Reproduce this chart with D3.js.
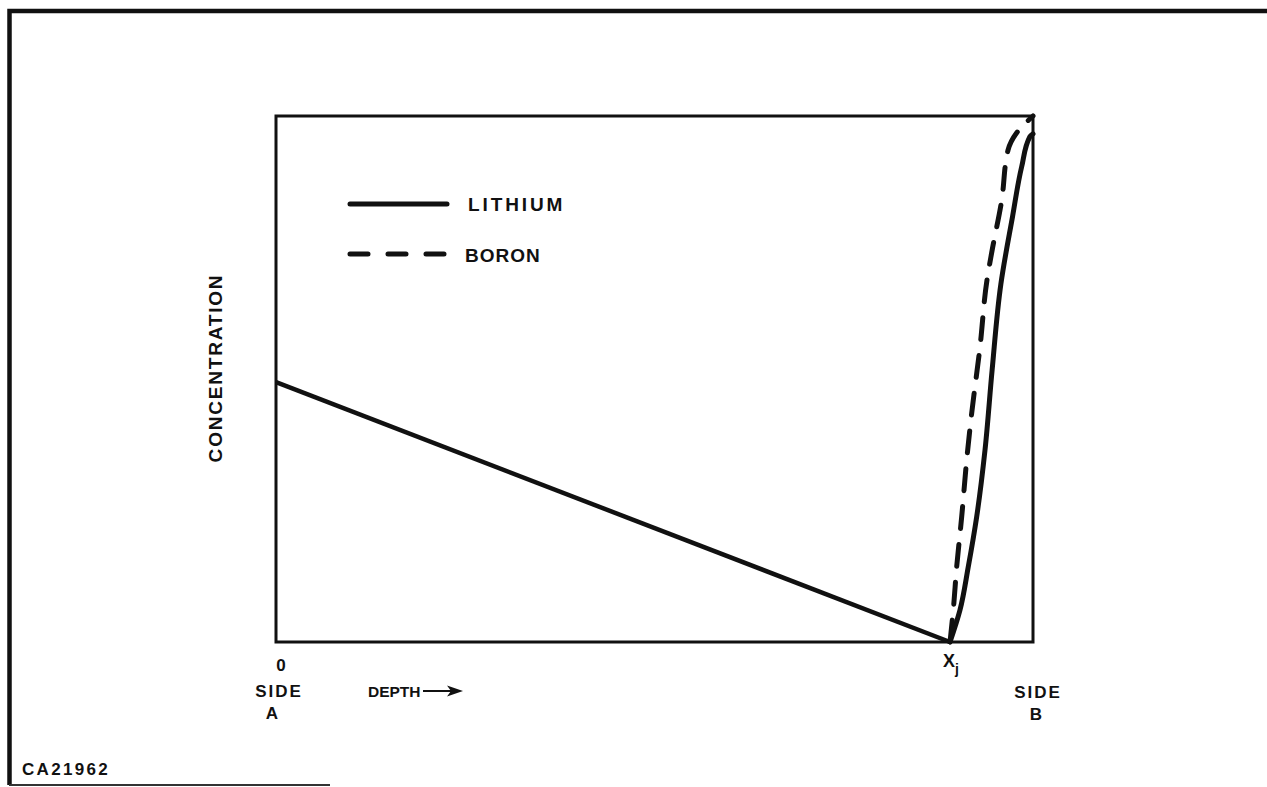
<!DOCTYPE html>
<html>
<head>
<meta charset="utf-8">
<script src="https://cdn.jsdelivr.net/npm/d3@7"></script>
<style>
  html, body { margin: 0; padding: 0; background: #fff; }
  svg { display: block; }
  text { font-family: "Liberation Sans", Arial, Helvetica, sans-serif; fill: #111; font-weight: bold; }
</style>
</head>
<body>
<svg id="chart" width="1267" height="787"></svg>
<script>
// Depth (0 = side A, 1 = side B) and relative concentration (0..1)
const junctionDepth = 0.8904;

// Lithium: linear decline from side A down to the junction
const lithiumLinear = [
  [0.0, 0.494],
  [junctionDepth, 0.0]
];

// Lithium: steep rise from the junction towards side B
const lithiumRise = [
  [0.8904, 0.0], [0.9036, 0.061], [0.9145, 0.143], [0.9256, 0.238],
  [0.9366, 0.365], [0.9460, 0.517], [0.9575, 0.680], [0.9730, 0.809],
  [0.9851, 0.904], [0.9960, 0.961], [1.0, 0.966]
];

// Boron: rises faster, reaching the top at side B
const boronRise = [
  [0.8904, 0.0], [0.8947, 0.061], [0.8992, 0.143], [0.9058, 0.238],
  [0.9124, 0.346], [0.9190, 0.435], [0.9300, 0.561], [0.9392, 0.688],
  [0.9454, 0.740], [0.9587, 0.840], [0.9670, 0.935], [0.9785, 0.968],
  [1.0, 1.0]
];

const legendItems = ["LITHIUM", "BORON"];
const drawingId = "CA21962";

const svg = d3.select("#chart");

// Outer drawing frame
svg.append("path")
  .attr("d", "M1267,11 H9.5 V785")
  .attr("fill", "none").attr("stroke", "#111").attr("stroke-width", 4.5);
svg.append("line")
  .attr("x1", 9).attr("x2", 330).attr("y1", 785).attr("y2", 785)
  .attr("stroke", "#333").attr("stroke-width", 2);

const plot = { left: 276, right: 1033, top: 116, bottom: 642 };
const x = d3.scaleLinear().domain([0, 1]).range([plot.left, plot.right]);
const y = d3.scaleLinear().domain([0, 1]).range([plot.bottom, plot.top]);

// Plot box
svg.append("rect")
  .attr("x", x(0)).attr("y", y(1))
  .attr("width", x(1) - x(0)).attr("height", y(0) - y(1))
  .attr("fill", "none").attr("stroke", "#111").attr("stroke-width", 3);

const line = d3.line().x(d => x(d[0])).y(d => y(d[1]));
// Both rising profiles increase steadily in concentration, so interpolate along y
const curve = d3.line().x(d => x(d[0])).y(d => y(d[1])).curve(d3.curveMonotoneY);

svg.append("path").datum(lithiumLinear)
  .attr("d", line).attr("fill", "none")
  .attr("stroke", "#111").attr("stroke-width", 4.5);

svg.append("path").datum(lithiumRise)
  .attr("d", curve).attr("fill", "none")
  .attr("stroke", "#111").attr("stroke-width", 5).attr("stroke-linecap", "round");

svg.append("path").datum(boronRise)
  .attr("d", curve).attr("fill", "none")
  .attr("stroke", "#111").attr("stroke-width", 5)
  .attr("stroke-linecap", "round")
  .attr("stroke-dasharray", "22,16");

// Legend
const legend = svg.append("g");
legendItems.forEach((name, i) => {
  const ly = 204 + i * 50;
  legend.append("line")
    .attr("x1", 350).attr("x2", 447).attr("y1", ly).attr("y2", ly)
    .attr("stroke", "#111").attr("stroke-width", 5).attr("stroke-linecap", "round")
    .attr("stroke-dasharray", i === 0 ? null : "18,20");
  legend.append("text")
    .attr("x", i === 0 ? 468 : 465).attr("y", ly + (i === 0 ? 7 : 8))
    .attr("font-size", 19)
    .attr("letter-spacing", i === 0 ? 2.9 : 1)
    .text(name);
});

// Y-axis title
svg.append("text")
  .attr("transform", "translate(222,368) rotate(-90)")
  .attr("text-anchor", "middle").attr("font-size", 19)
  .attr("letter-spacing", 1.8)
  .text("CONCENTRATION");

// X-axis annotations
const xl = svg.append("g").attr("font-size", 17).attr("text-anchor", "middle");
xl.append("text").attr("x", x(0) + 5).attr("y", 671).text("0");
xl.append("text").attr("x", x(0) + 3).attr("y", 697).attr("letter-spacing", 2).text("SIDE");
xl.append("text").attr("x", x(0) - 4).attr("y", 719).text("A");

const xj = xl.append("text").attr("x", x(junctionDepth) + 1).attr("y", 667)
  .attr("font-size", 18).attr("font-weight", "normal");
xj.append("tspan").text("X");
xj.append("tspan").attr("dy", 7).attr("font-size", 14).text("j");

xl.append("text").attr("x", x(1) + 5).attr("y", 698).attr("letter-spacing", 2).text("SIDE");
xl.append("text").attr("x", x(1) + 3).attr("y", 720).text("B");

svg.append("text").attr("x", 368).attr("y", 697).attr("font-size", 15.5).text("DEPTH");
svg.append("line")
  .attr("x1", 423).attr("x2", 452).attr("y1", 691).attr("y2", 691)
  .attr("stroke", "#111").attr("stroke-width", 2);
svg.append("path")
  .attr("d", "M463,691 L447,685.5 L451,691 L447,696.5 Z")
  .attr("fill", "#111");

svg.append("text").attr("x", 22).attr("y", 775).attr("font-size", 17)
  .attr("letter-spacing", 2.3).attr("font-weight", "normal").text(drawingId);
</script>
</body>
</html>
